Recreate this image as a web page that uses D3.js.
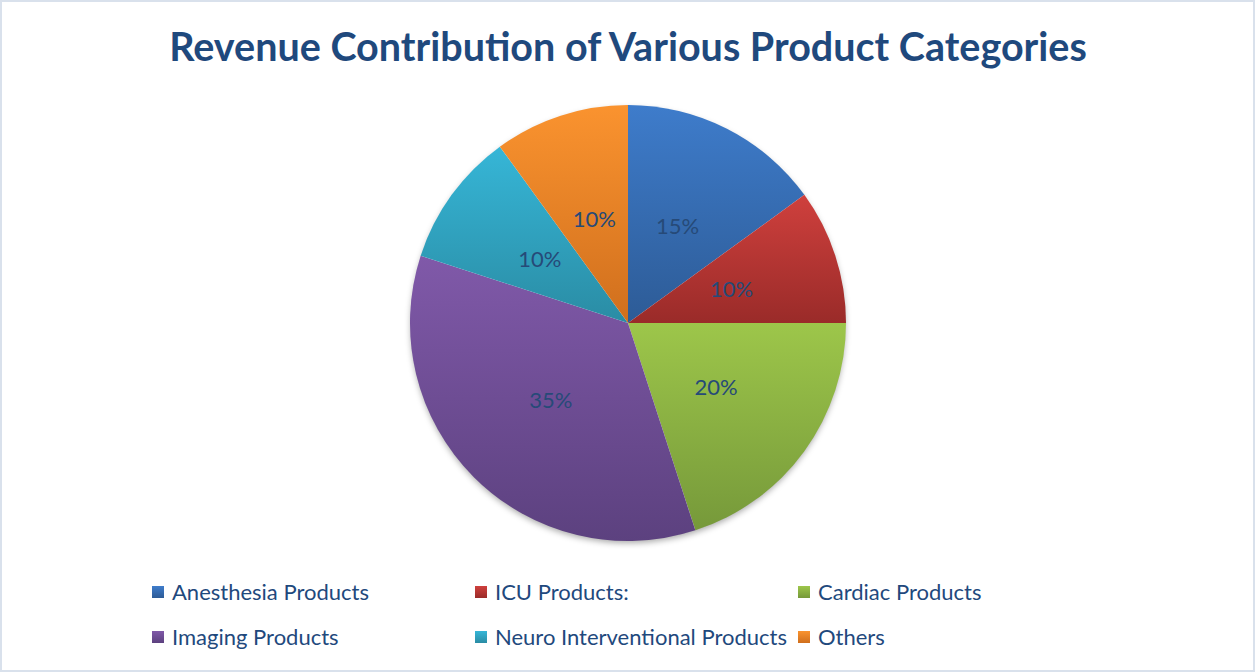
<!DOCTYPE html>
<html><head><meta charset="utf-8">
<script src="https://cdn.jsdelivr.net/npm/d3@7/dist/d3.min.js"></script>
<style>html,body{margin:0;padding:0;background:#fff;}svg{display:block;}</style>
</head><body>
<script>
const categories = ["Anesthesia Products","ICU Products:","Cardiac Products","Imaging Products","Neuro Interventional Products","Others"];
const values = [15,10,20,35,10,10];
const colorsTop = ["#3e7ccb","#cf403d","#9dc64a","#8059a9","#36b6d7","#fa932f"];
const colorsBottom = ["#2d5b96","#9a2b29","#76993a","#5c417f","#2a8ca4","#d06f1d"];
const title = "Revenue Contribution of Various Product Categories";

const W = 1255, H = 672;
const svg = d3.select("body").append("svg").attr("width", W).attr("height", H);
const defs = svg.append("defs");
categories.forEach((c,i)=>{
  const g = defs.append("linearGradient").attr("id","g"+i).attr("x1",0).attr("y1",0).attr("x2",0).attr("y2",1);
  g.append("stop").attr("offset","0%").attr("stop-color",colorsTop[i]);
  g.append("stop").attr("offset","100%").attr("stop-color",colorsBottom[i]);
});
const f = defs.append("filter").attr("id","sh").attr("x","-20%").attr("y","-20%").attr("width","140%").attr("height","140%");
f.append("feDropShadow").attr("dx",0).attr("dy",3).attr("stdDeviation",3).attr("flood-color","#000").attr("flood-opacity",0.35);

svg.append("rect").attr("x",1).attr("y",1).attr("width",W-2).attr("height",H-2)
  .attr("fill","#fff").attr("stroke","#d9e1ec").attr("stroke-width",2);

const font = "Lato, 'Open Sans', sans-serif";
const t = svg.append("text").attr("x",628).attr("y",61).attr("text-anchor","middle")
  .attr("font-family",font).attr("font-weight","bold").attr("font-size",36)
  .attr("fill","#1f497d").text(title);
const tw = t.node().getComputedTextLength();
t.attr("font-size", 36*918/tw);

const cx = 628, cy = 323, r = 218;
const pie = d3.pie().sort(null).value(d=>d.v);
const data = pie(categories.map((c,i)=>({c, v: values[i], i})));
const arc = d3.arc().innerRadius(0).outerRadius(r);
const labelArc = d3.arc().innerRadius(r*0.5).outerRadius(r*0.5);
const g = svg.append("g").attr("transform",`translate(${cx},${cy})`);
g.append("circle").attr("r",r-1).attr("fill","#fff").attr("filter","url(#sh)");
g.selectAll("path.s").data(data).join("path").attr("class","s")
  .attr("d",arc).attr("fill",d=>`url(#g${d.data.i})`);
// gradient per slice uses bbox; fine
g.selectAll("text.l").data(data).join("text").attr("class","l")
  .attr("transform",d=>`translate(${labelArc.centroid(d)})`)
  .attr("text-anchor","middle").attr("dy","0.35em")
  .attr("font-family",font).attr("font-size",20).attr("fill","#264a78")
  .text(d=>d.data.v+"%");

const legX = [154, 477, 800], legY = [592, 637];
const lg = svg.append("g");
categories.forEach((c,i)=>{
  const x = legX[i%3], y = legY[Math.floor(i/3)];
  lg.append("rect").attr("x",x-2).attr("y",y-6).attr("width",12).attr("height",12).attr("fill",`url(#g${i})`);
  const tx = lg.append("text").attr("x",x+18).attr("y",y).attr("dy","0.35em")
    .attr("font-family",font).attr("font-size",20).attr("fill","#1f497d").text(c);
});
// scale legend font to match reference width of "Anesthesia Products" (~197px)
const firstW = lg.select("text").node().getComputedTextLength();
lg.selectAll("text").attr("font-size", 20*197/firstW);
g.selectAll("text.l").attr("font-size", 20*197/firstW);
</script>
</body></html>
